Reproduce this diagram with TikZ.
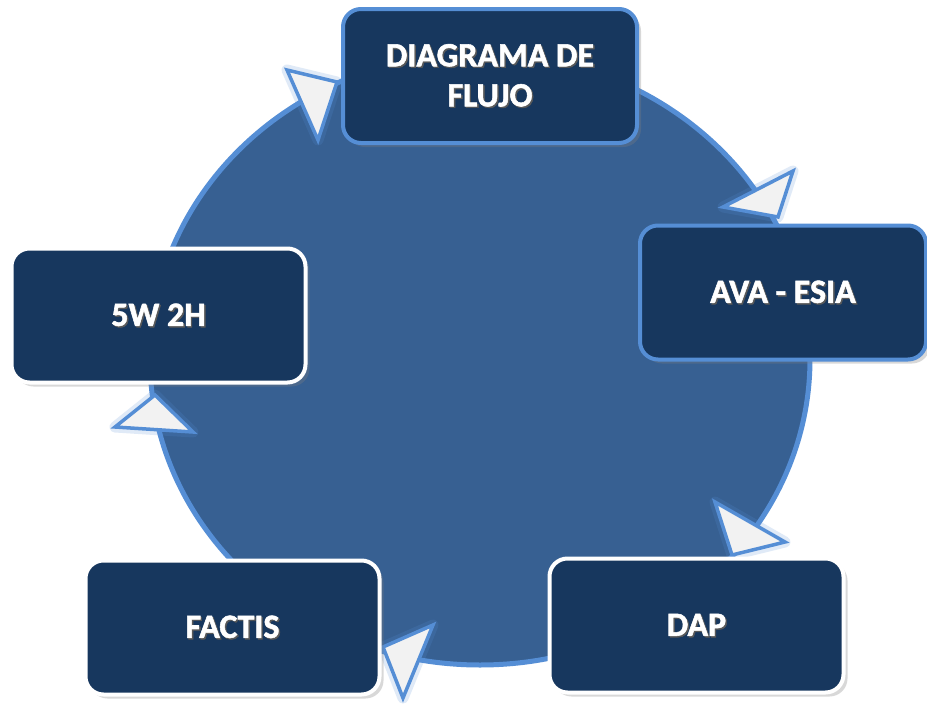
\documentclass[tikz,border=0pt]{standalone}
\usepackage{fontspec}
\setmainfont{Carlito}[BoldFeatures={FakeBold=1.6}]
\usetikzlibrary{shadows}

\definecolor{ringfill}{HTML}{376092}
\definecolor{ringline}{HTML}{558ED5}
\definecolor{boxfill}{HTML}{17375E}
\definecolor{tipfill}{HTML}{F2F2F2}

% white label with a soft dark offset copy behind it
\newcommand\shd[1]{\makebox[0pt][l]{\kern1.4pt\raisebox{-1.4pt}{\textcolor{black!65}{#1}}}#1}

\begin{document}
\begin{tikzpicture}[x=1pt,y=-1pt,
  stepbox/.style={rounded corners=18pt, fill=boxfill, line width=4pt,
    minimum width=294pt, minimum height=134pt, text=white,
    font=\fontsize{34}{40}\selectfont\bfseries, align=center,
    drop shadow={opacity=0.3, shadow xshift=4pt, shadow yshift=-4pt}},
  blueedge/.style={draw=ringline},
  whiteedge/.style={draw=white},
  tip/.style={fill=tipfill, draw=ringline, line width=3.5pt, line join=miter},
  tipglow/.style={draw=ringline, line width=11pt, opacity=0.18, line join=round}]

\fill[white] (0,0) rectangle (927,707);
\useasboundingbox (0,0) rectangle (927,707);

% the cycle ring
\path[fill=ringfill, draw=ringline, line width=5pt]
  (480,359) ellipse [x radius=330pt, y radius=306pt];

% arrow heads along the ring, clockwise
\draw[tipglow] (287,70) -- (337,82) -- (318,140) -- cycle;
\draw[tip]     (287,70) -- (337,82) -- (318,140) -- cycle;
\draw[tipglow] (723,207) -- (793,171) -- (778,217) -- cycle;
\draw[tip]     (723,207) -- (793,171) -- (778,217) -- cycle;
\draw[tipglow] (715,502) -- (785,542) -- (732,555) -- cycle;
\draw[tip]     (715,502) -- (785,542) -- (732,555) -- cycle;
\draw[tipglow] (433,625) -- (403,698) -- (383,647) -- cycle;
\draw[tip]     (433,625) -- (403,698) -- (383,647) -- cycle;
\draw[tipglow] (115,427) -- (193,432) -- (155,395) -- cycle;
\draw[tip]     (115,427) -- (193,432) -- (155,395) -- cycle;

% the five steps
\node[stepbox, blueedge]  (flujo)  at (490,76)    {\shd{DIAGRAMA DE}\\\shd{FLUJO}};
\node[stepbox, blueedge, minimum width=286pt]  (ava) at (783,292.5) {\shd{AVA - ESIA}};
\node[stepbox, whiteedge] (dap)    at (696.5,625.5) {\shd{DAP}};
\node[stepbox, whiteedge] (factis) at (232.5,627.5) {\shd{FACTIS}};
\node[stepbox, whiteedge] (wh)     at (158.5,315.5) {\shd{5W 2H}};
\end{tikzpicture}
\end{document}
